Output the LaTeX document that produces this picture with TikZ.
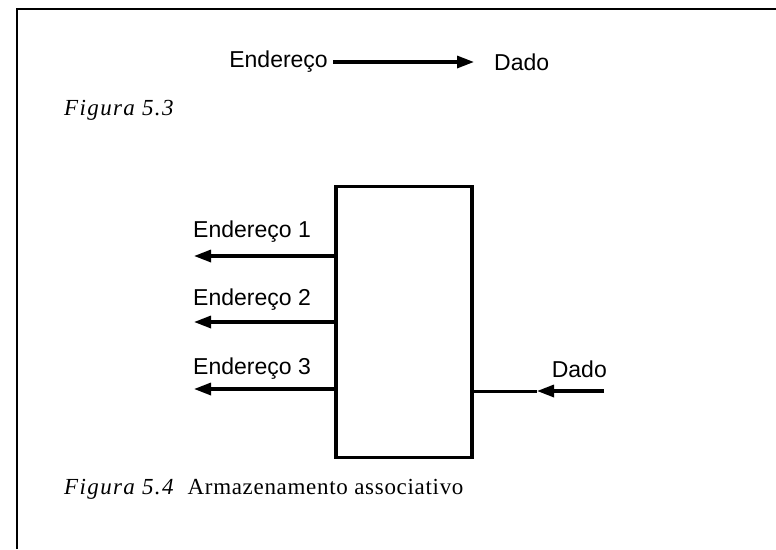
\documentclass[tikz,border=0pt]{standalone}
\usepackage{fontspec}
\setmainfont[LetterSpace=3]{Liberation Serif}
\newfontfamily\lblfont{Liberation Sans}
\newfontfamily\capitfont[LetterSpace=6]{Liberation Serif Italic}
\usetikzlibrary{arrows.meta}
\begin{document}
\begin{tikzpicture}[x=1pt,y=-1pt,
  lbl/.style={font=\lblfont\fontsize{23}{27}\selectfont, inner sep=0pt},
  captxt/.style={font=\fontsize{23}{27}\selectfont, inner sep=0pt, anchor=west},
  arr/.style={line width=3.2pt, -{Triangle[length=17pt,width=12pt]}},
  plain/.style={line width=3pt},
  memo/.style={draw, line width=3.6pt, minimum width=136pt, minimum height=271pt, inner sep=0pt}]
\useasboundingbox (0,0) rectangle (776,549);
% frame
\coordinate (fa) at (17,549);
\coordinate (fb) at (17,9);
\coordinate (fc) at (776,9);
\draw[line width=1.8pt] (fa) -- (fb) -- (fc);
% Figura 5.3
\node[lbl, anchor=east] (ta) at (328,62) {Endereço};
\node[lbl, anchor=west] (tb) at (494,62) {Dado};
\draw[arr] ([xshift=5pt]ta.east) -- ([xshift=-20pt]tb.west);
\node[captxt] (c1) at (64,110) {\capitfont Figura 5.3};
% box
\node[memo] (box) at (404,322) {};
\coordinate (e1) at (194,256);
\coordinate (e2) at (194,322);
\coordinate (e3) at (194,389);
\draw[arr] (box.west |- e1) -- (e1);
\draw[arr] (box.west |- e2) -- (e2);
\draw[arr] (box.west |- e3) -- (e3);
\node[lbl, anchor=west] (l1) at (193,232) {Endereço 1};
\node[lbl, anchor=west] (l2) at (193,300) {Endereço 2};
\node[lbl, anchor=west] (l3) at (193,369) {Endereço 3};
% Dado input
\coordinate (d0) at (604,391);
\coordinate (dm) at (537,391);
\draw[arr] (d0) -- (dm);
\draw[plain] (dm) -- (box.east |- d0);
\node[lbl, anchor=east] (dl) at (607,369) {Dado};
% caption
\node[captxt] (c2) at (64,489) {{\capitfont Figura 5.4}\hspace{14pt}Armazenamento associativo};
\end{tikzpicture}
\end{document}
